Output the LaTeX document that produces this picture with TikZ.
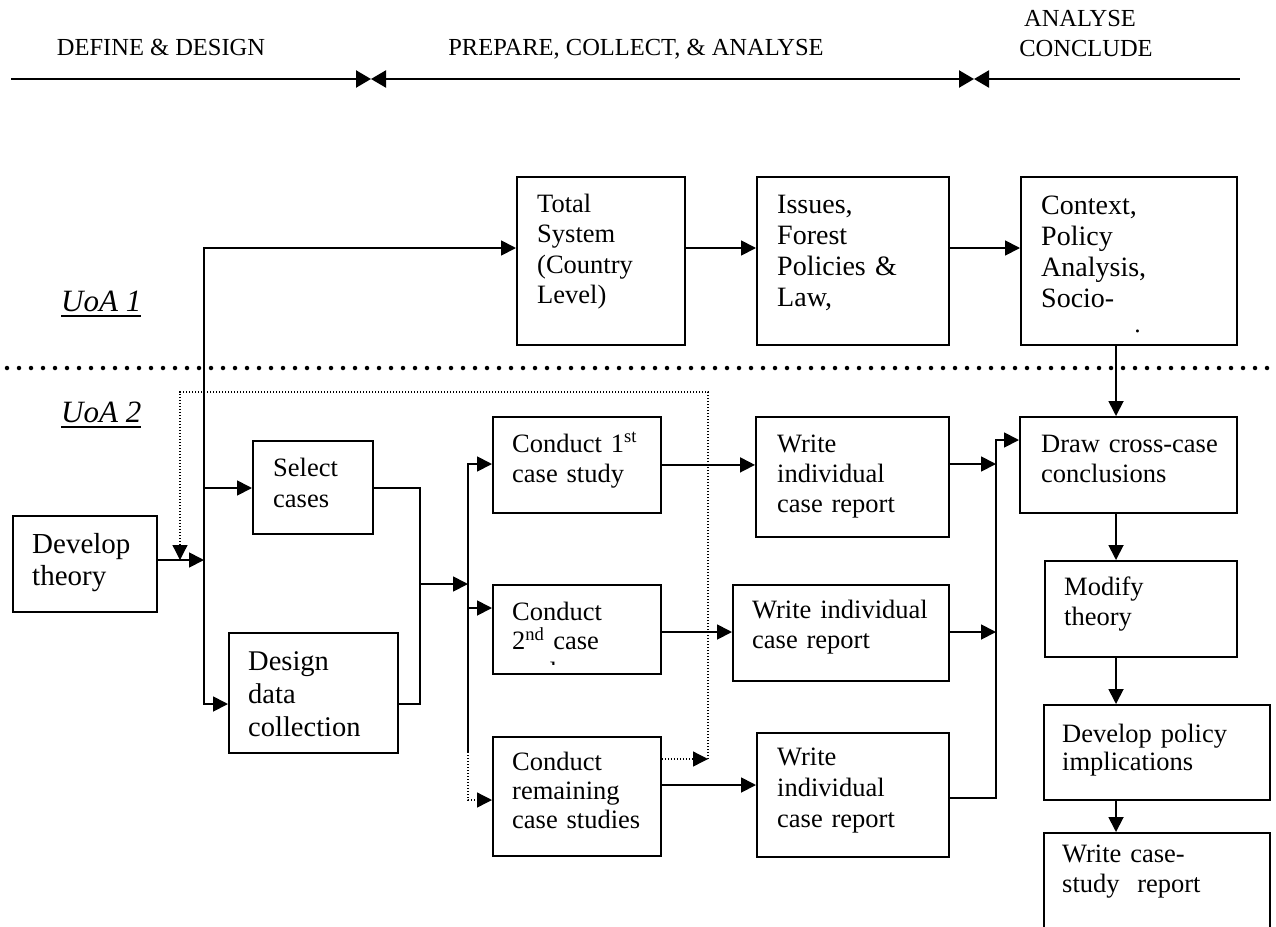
\documentclass[tikz,border=0pt]{standalone}
\usepackage{fontspec}
\setmainfont{Liberation Serif}
\usetikzlibrary{arrows.meta}
\newcommand\fsz[2]{\fontsize{#1}{#2}\selectfont}
% rectangle node from its top-left and bottom-right corners
\newcommand\mkbox[5]{\node[box, minimum width={(#4-#2)*1pt}, minimum height={(#5-#3)*1pt}] (#1) at (#2,#3) {};}
\begin{document}
\begin{tikzpicture}[x=1pt,y=-1pt,
  box/.style={draw, line width=1.8pt, inner sep=0pt, anchor=north west},
  txt/.style={inner sep=0pt, anchor=base west, text width=260pt, align=left, font=\fsz{26.5}{30}},
  hdr/.style={inner sep=0pt, anchor=base, font=\fsz{24.5}{29}},
  hline/.style={line width=2.2pt},
  uoa/.style={inner sep=0pt, anchor=base west, font=\fsz{31}{36}\itshape},
  ln/.style={line width=1.8pt},
  dotln/.style={line width=1.3pt, dash pattern=on 1.3pt off 1.7pt},
  >={Triangle[length=15pt,width=15pt]}
]
\useasboundingbox (0,0) rectangle (1276,926);
\clip (0,0) rectangle (1276,926);

% ---- phase headings and timeline ----
\node[hdr] (h1) at (161,55) {DEFINE \& DESIGN};
\node[hdr] (h2) at (636,55) {PREPARE, COLLECT, \& ANALYSE};
\node[hdr] (h3a) at (1080,27) {ANALYSE};
\node[hdr] (h3b) at (1086,56) {CONCLUDE};
\coordinate (tl0) at (11,79);
\coordinate (tl1) at (371,79);
\coordinate (tl2) at (974,79);
\coordinate (tl3) at (1240,79);
\draw[hline,-{Triangle[length=15pt,width=17pt]}] (tl0) -- (tl1);
\draw[hline,{Triangle[length=15pt,width=17pt]}-{Triangle[length=15pt,width=17pt]}] (tl1) -- (tl2);
\draw[hline,{Triangle[length=15pt,width=17pt]}-] (tl2) -- (tl3);

% ---- units of analysis ----
\node[uoa] (u1) at (61,311) {UoA 1};
\node[uoa] (u2) at (61,422) {UoA 2};
\draw[line width=1.6pt] ([yshift=-5pt]u1.base west) -- ([yshift=-5pt]u1.base east);
\draw[line width=1.6pt] ([yshift=-5pt]u2.base west) -- ([yshift=-5pt]u2.base east);
\coordinate (sepL) at (7,368);
\coordinate (sepR) at (1282,368);
\draw[line width=4.5pt, line cap=round, dash pattern=on 0pt off 12pt] (sepL) -- (sepR);

% ---- boxes ----
\mkbox{ts}{516}{176}{684}{344}
\mkbox{is}{756}{176}{948}{344}
\mkbox{cx}{1020}{176}{1236}{344}
\mkbox{dt}{12}{515}{156}{611}
\mkbox{sc}{252}{440}{372}{533}
\mkbox{dd}{228}{632}{397}{752}
\mkbox{c1}{492}{416}{660}{512}
\mkbox{c2}{492}{584}{660}{673}
\mkbox{cr}{492}{736}{660}{855}
\mkbox{w1}{755}{416}{948}{536}
\mkbox{w2}{732}{584}{948}{680}
\mkbox{w3}{756}{732}{948}{856}
\mkbox{dc}{1019}{416}{1236}{512}
\mkbox{mt}{1044}{560}{1236}{656}
\mkbox{dp}{1043}{704}{1269}{799}
\mkbox{wr}{1043}{832}{1269}{960}

% ---- box texts ----
\node[txt, font=\fsz{26.5}{30.5}] (tts) at (537,212) {Total\\System\\(Country\\Level)};
\node[txt, font=\fsz{28}{31}] (tis) at (777,213) {Issues,\\Forest\\Policies \&\\Law,};
\node[txt, font=\fsz{28}{31}] (tcx) at (1041,214) {Context,\\Policy\\Analysis,\\Socio-};
\begin{scope}
  \clip (1020,176) rectangle (1236,333);
  \node[txt, font=\fsz{28}{31}] (tcx2) at (1045,348) {economic};
\end{scope}
\node[txt, font=\fsz{29}{32}] (tdt) at (32,553) {Develop\\theory};
\node[txt, font=\fsz{26.5}{31}] (tsc) at (273,476) {Select\\cases};
\node[txt, font=\fsz{28.5}{33}] (tdd) at (248,670) {Design\\data\\collection};
\node[txt] (tc1) at (512,452) {Conduct 1\textsuperscript{st}\\case study};
\node[txt, font=\fsz{26.5}{29.5}] (tc2) at (512,620) {Conduct\\2\textsuperscript{nd} case};
\begin{scope}
  \clip (492,584) rectangle (660,664.5);
  \node[txt] (tc2b) at (512,680) {study};
\end{scope}
\node[txt, font=\fsz{26.5}{29}] (tcr) at (512,770) {Conduct\\remaining\\case studies};
\node[txt] (tw1) at (777,452) {Write\\individual\\case report};
\node[txt] (tw2) at (752,618) {Write individual\\case report};
\node[txt, font=\fsz{26.5}{31}] (tw3) at (777,765) {Write\\individual\\case report};
\node[txt] (tdc) at (1041,452) {Draw cross-case\\conclusions};
\node[txt] (tmt) at (1064,595) {Modify\\theory};
\node[txt, font=\fsz{26.5}{28}] (tdp) at (1062,742) {Develop policy\\implications};
\node[txt] (twr) at (1062,862) {Write case-\\study\ \ report};

% ---- connectors ----
% trunk from the theory box
\coordinate (jTop) at (204,248);
\coordinate (jSel) at (204,488);
\coordinate (jDev) at (204,560);
\coordinate (jDes) at (204,704);
\draw[ln,<->] (jDes -| dd.west) -- (jDes) -- (jTop) -- (jTop -| ts.west);
\draw[ln,->] (jSel) -- (jSel -| sc.west);
\draw[ln,->] (jDev -| dt.east) -- (jDev);
% country level row
\draw[ln,->] (jTop -| ts.east) -- (jTop -| is.west);
\draw[ln,->] (jTop -| is.east) -- (jTop -| cx.west);
% merge of case selection and design
\coordinate (m1) at (420,488);
\coordinate (m2) at (420,704);
\coordinate (m3) at (420,584);
\coordinate (b0) at (468,584);
\draw[ln] (m1 -| sc.east) -- (m1) -- (m2) -- (m2 -| dd.east);
\draw[ln,->] (m3) -- (b0);
% branches to the case studies
\coordinate (b1) at (468,464);
\coordinate (b2) at (468,608);
\coordinate (b3) at (468,752);
\coordinate (b4) at (468,800);
\draw[ln,->] (b3) -- (b1) -- (b1 -| c1.west);
\draw[ln,->] (b2) -- (b2 -| c2.west);
\draw[dotln,->] (b3) -- (b4) -- (b4 -| cr.west);
% case studies to reports
\coordinate (r2) at (660,632);
\coordinate (r3) at (660,785);
\draw[ln,->] (c1.east) -- (c1.east -| w1.west);
\draw[ln,->] (r2) -- (r2 -| w2.west);
\draw[ln,->] (r3 -| cr.east) -- (r3 -| w3.west);
% feedback loop
\coordinate (fb0) at (708,759);
\coordinate (fb1) at (708,392);
\coordinate (fb2) at (180,392);
\coordinate (fb3) at (180,560);
\draw[dotln,->] (fb0 -| cr.east) -- (fb0);
\draw[dotln,->] (fb0) -- (fb1) -- (fb2) -- (fb3);
% reports to cross-case conclusions
\coordinate (k0) at (996,440);
\coordinate (k1) at (996,464);
\coordinate (k2) at (996,632);
\coordinate (k3) at (996,798);
\draw[ln,->] (k1 -| w1.east) -- (k1);
\draw[ln,->] (k2 -| w2.east) -- (k2);
\draw[ln,->] (k3 -| w3.east) -- (k3) -- (k0) -- (k0 -| dc.west);
% right-hand column
\coordinate (vcol) at (1116,0);
\draw[ln,->] (vcol |- cx.south) -- (vcol |- dc.north);
\draw[ln,->] (vcol |- dc.south) -- (vcol |- mt.north);
\draw[ln,->] (vcol |- mt.south) -- (vcol |- dp.north);
\draw[ln,->] (vcol |- dp.south) -- (vcol |- wr.north);
\end{tikzpicture}
\end{document}
